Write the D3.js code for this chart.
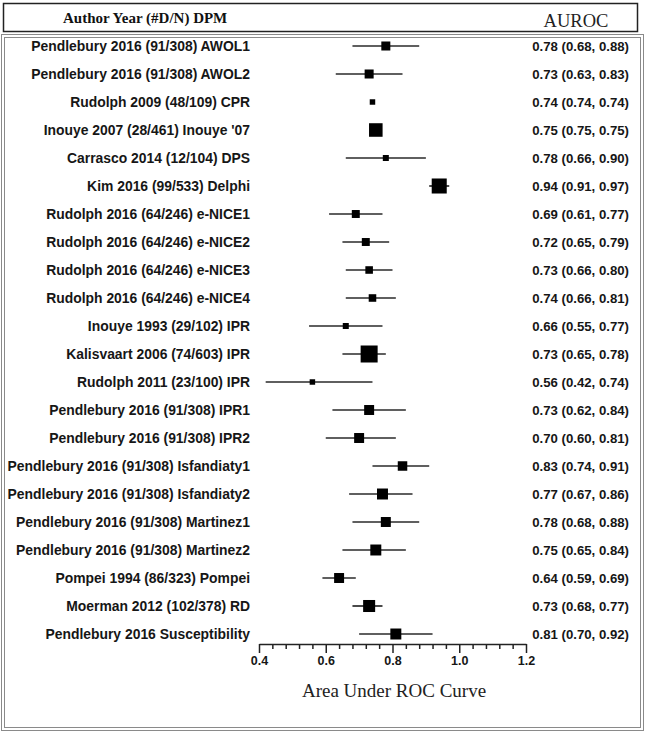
<!DOCTYPE html>
<html>
<head>
<meta charset="utf-8">
<script src="https://cdn.jsdelivr.net/npm/d3@7"></script>
<style>
  html, body { margin: 0; padding: 0; background: #fff; }
  svg { display: block; }
</style>
</head>
<body>
<svg id="chart" width="648" height="732"></svg>
<script>
const studies = [
  "Pendlebury 2016 (91/308) AWOL1",
  "Pendlebury 2016 (91/308) AWOL2",
  "Rudolph 2009 (48/109) CPR",
  "Inouye 2007 (28/461) Inouye '07",
  "Carrasco 2014 (12/104) DPS",
  "Kim 2016 (99/533) Delphi",
  "Rudolph 2016 (64/246) e-NICE1",
  "Rudolph 2016 (64/246) e-NICE2",
  "Rudolph 2016 (64/246) e-NICE3",
  "Rudolph 2016 (64/246) e-NICE4",
  "Inouye 1993 (29/102) IPR",
  "Kalisvaart 2006 (74/603) IPR",
  "Rudolph 2011 (23/100) IPR",
  "Pendlebury 2016 (91/308) IPR1",
  "Pendlebury 2016 (91/308) IPR2",
  "Pendlebury 2016 (91/308) Isfandiaty1",
  "Pendlebury 2016 (91/308) Isfandiaty2",
  "Pendlebury 2016 (91/308) Martinez1",
  "Pendlebury 2016 (91/308) Martinez2",
  "Pompei 1994 (86/323) Pompei",
  "Moerman 2012 (102/378) RD",
  "Pendlebury 2016 Susceptibility"
];
const auroc = [0.78,0.73,0.74,0.75,0.78,0.94,0.69,0.72,0.73,0.74,0.66,0.73,0.56,0.73,0.70,0.83,0.77,0.78,0.75,0.64,0.73,0.81];
const lower = [0.68,0.63,0.74,0.75,0.66,0.91,0.61,0.65,0.66,0.66,0.55,0.65,0.42,0.62,0.60,0.74,0.67,0.68,0.65,0.59,0.68,0.70];
const upper = [0.88,0.83,0.74,0.75,0.90,0.97,0.77,0.79,0.80,0.81,0.77,0.78,0.74,0.84,0.81,0.91,0.86,0.88,0.84,0.69,0.77,0.92];
const weights = [2.7,2.7,1.0,6.1,1.2,7.5,2.1,2.1,1.9,1.9,1.2,9.6,1.0,3.3,3.3,3.0,4.0,3.3,4.0,3.3,4.8,4.0];
const majorTicks = [0.4,0.6,0.8,1.0,1.2];
const minorTicks = [0.44,0.48,0.52,0.56,0.64,0.68,0.72,0.76,0.84,0.88,0.92,0.96,1.04,1.08,1.12,1.16];
const headerLeft = "Author Year (#D/N) DPM";
const headerRight = "AUROC";
const xTitle = "Area Under ROC Curve";

const svg = d3.select("#chart");
const fmt = d3.format(".2f");

// frames
svg.append("rect").attr("x",1.5).attr("y",34.5).attr("width",642).attr("height",696)
  .attr("fill","none").attr("stroke","#8a8a8a").attr("stroke-width",1);
svg.append("rect").attr("x",4.5).attr("y",37.5).attr("width",636).attr("height",690)
  .attr("fill","none").attr("stroke","#8a8a8a").attr("stroke-width",1);
svg.append("rect").attr("x",3.5).attr("y",3.5).attr("width",634).attr("height",28)
  .attr("fill","none").attr("stroke","#222").attr("stroke-width",1.5);

// header
svg.append("text").attr("x",63).attr("y",22.5)
  .attr("font-family","'Liberation Serif','Times New Roman',serif")
  .attr("font-weight","bold").attr("font-size",15).attr("fill","#111").text(headerLeft);
svg.append("text").attr("x",576).attr("y",27).attr("text-anchor","middle")
  .attr("font-family","'Liberation Serif','Times New Roman',serif")
  .attr("font-size",18.5).attr("fill","#222").text(headerRight);

const x = d3.scaleLinear().domain([0.4,1.2]).range([259,526]);
const y = d3.scalePoint().domain(studies).range([46,634]);
const side = d3.scaleSqrt().domain([0,9.6]).range([0,17]);

const rows = studies.map((s,i)=>({s, est:auroc[i], lo:lower[i], hi:upper[i], w:weights[i]}));

const g = svg.append("g");
g.selectAll("line.ci").data(rows).join("line").attr("class","ci")
  .attr("x1",d=>x(d.lo)).attr("x2",d=>x(d.hi))
  .attr("y1",d=>y(d.s)).attr("y2",d=>y(d.s))
  .attr("stroke","#2a2a2a").attr("stroke-width",1.7);
g.selectAll("rect.pt").data(rows).join("rect").attr("class","pt")
  .attr("x",d=>x(d.est)-side(d.w)/2).attr("y",d=>y(d.s)-side(d.w)/2)
  .attr("width",d=>side(d.w)).attr("height",d=>side(d.w)).attr("fill","#000");

g.selectAll("text.lab").data(rows).join("text").attr("class","lab")
  .attr("x",250).attr("y",d=>y(d.s)).attr("dy","0.36em").attr("text-anchor","end")
  .attr("font-family","'Liberation Sans',Arial,sans-serif").attr("font-weight","bold")
  .attr("font-size",13.9).attr("fill","#161616").text(d=>d.s);
g.selectAll("text.val").data(rows).join("text").attr("class","val")
  .attr("x",629).attr("y",d=>y(d.s)).attr("dy","0.36em").attr("text-anchor","end")
  .attr("font-family","'Liberation Sans',Arial,sans-serif").attr("font-weight","bold")
  .attr("font-size",13.2).attr("fill","#161616")
  .text(d=>`${fmt(d.est)} (${fmt(d.lo)}, ${fmt(d.hi)})`);

// axis
const axY = 644;
const minorAxis = svg.append("g").attr("transform",`translate(0,${axY})`)
  .call(d3.axisBottom(x).tickValues(minorTicks).tickSize(5).tickSizeOuter(0).tickFormat(""));
minorAxis.select(".domain").remove();
minorAxis.selectAll("line").attr("stroke","#222").attr("stroke-width",1.5);
const majorAxis = svg.append("g").attr("transform",`translate(0,${axY})`)
  .call(d3.axisBottom(x).tickValues(majorTicks).tickSize(9).tickSizeOuter(0).tickPadding(3).tickFormat(d3.format(".1f")));
majorAxis.select(".domain").attr("stroke","#222").attr("stroke-width",1.5);
majorAxis.selectAll("line").attr("stroke","#222").attr("stroke-width",1.5);
majorAxis.selectAll("text").attr("font-family","'Liberation Sans',Arial,sans-serif")
  .attr("font-weight","bold").attr("font-size",12.5).attr("fill","#161616");

svg.append("text").attr("x",394).attr("y",697).attr("text-anchor","middle")
  .attr("font-family","'Liberation Serif','Times New Roman',serif")
  .attr("font-size",19).attr("fill","#222").text(xTitle);
</script>
</body>
</html>
